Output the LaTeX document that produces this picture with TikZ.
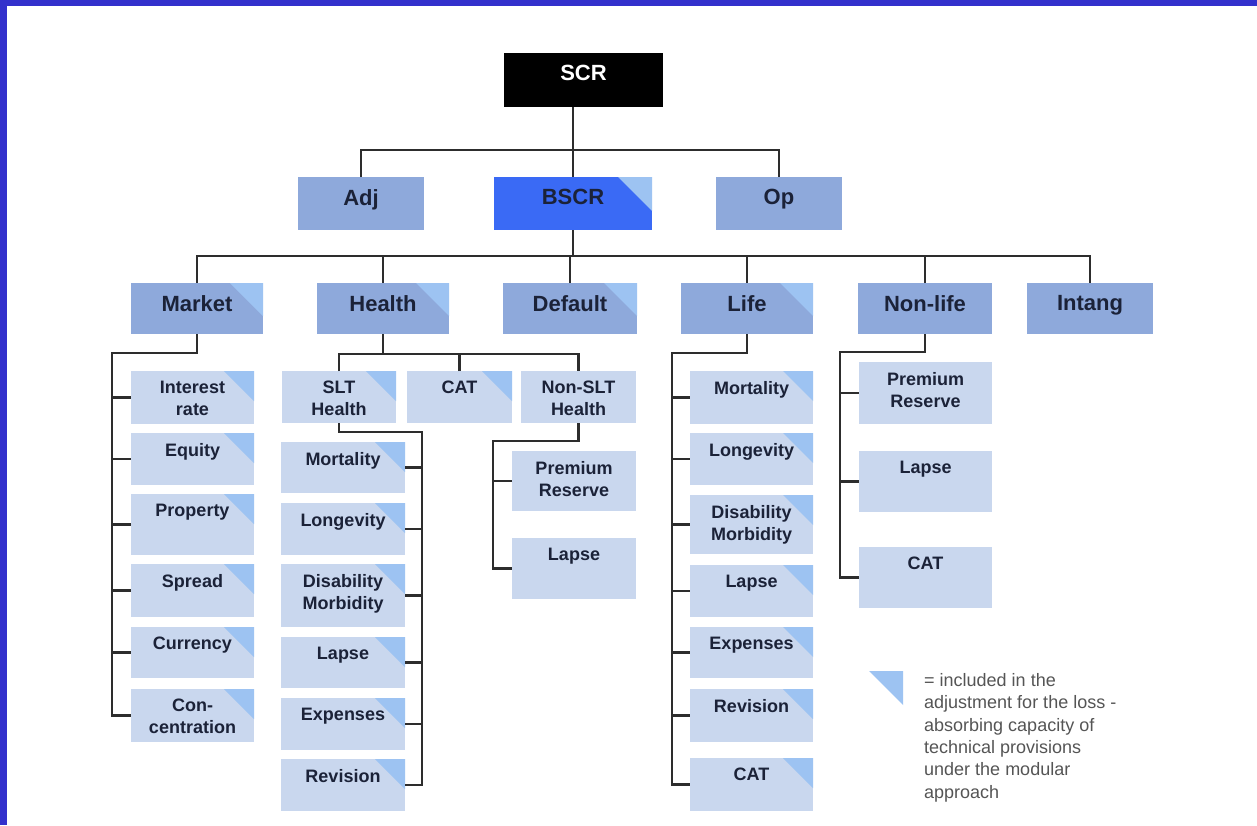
\documentclass[tikz,border=0pt]{standalone}
\usepackage{fontspec}
\setmainfont{Liberation Sans}
\definecolor{framec}{RGB}{51,49,204}
\definecolor{lvA}{RGB}{142,169,219}
\definecolor{lvB}{RGB}{201,215,238}
\definecolor{bscrc}{RGB}{58,106,245}
\definecolor{tric}{RGB}{157,195,242}
\definecolor{txtc}{RGB}{27,34,56}
\definecolor{linec}{RGB}{45,45,45}
\definecolor{legc}{RGB}{85,85,85}
% #1 name, #2 box style, #3 text style, #4 x1, #5 y1, #6 x2, #7 y2, #8 text, #9 triangle size (0 = none)
\newcommand\bx[9]{%
  \node[#2, minimum width={#6-#4}, minimum height={#7-#5}] (#1) at ({(#4+#6)/2},{(#5+#7)/2}) {};
  \ifnum#9>0 \fill[trifill] ([xshift=-#9]#1.north east) -- (#1.north east) -- ([yshift=-#9]#1.north east) -- cycle;\fi
  \node[#3] (#1-t) at (#1.north) {#8};}
\begin{document}
\begin{tikzpicture}[x=1pt,y=-1pt,
  boxbase/.style={inner sep=0pt, outer sep=0pt, rectangle},
  blk/.style={boxbase, fill=black},
  bA/.style={boxbase, fill=lvA},
  bB/.style={boxbase, fill=lvB},
  bS/.style={boxbase, fill=bscrc},
  tA/.style={inner sep=0pt, anchor=north, yshift=-12pt, align=center, text=txtc, font=\bfseries\fontsize{22}{26}\selectfont},
  tW/.style={tA, text=white},
  tB/.style={inner sep=0pt, anchor=north, yshift=-10pt, align=center, text=txtc, font=\bfseries\fontsize{18}{22}\selectfont},
  conn/.style={draw=linec, line width=2.6pt},
  trifill/.style={fill=tric}]
\useasboundingbox (0,0) rectangle (1257,825);
\fill[white] (0,0) rectangle (1257,825);
\fill[framec] (0,0) rectangle (7,825);
\fill[framec] (0,0) rectangle (1257,6);

% level 0 and 1
\bx{scr}{blk}{tW}{504}{53}{663}{107}{SCR}{0}
\bx{adj}{bA}{tA}{298}{177}{424}{230}{Adj}{0}
\bx{bscr}{bS}{tA}{494}{177}{652}{230}{BSCR}{34}
\bx{op}{bA}{tA}{716}{177}{842}{230}{Op}{0}

% level 2
\bx{market}{bA}{tA}{131}{283}{263}{334}{Market}{33}
\bx{health}{bA}{tA}{317}{283}{449}{334}{Health}{33}
\bx{default}{bA}{tA}{503}{283}{637}{334}{Default}{33}
\bx{life}{bA}{tA}{681}{283}{813}{334}{Life}{33}
\bx{nonlife}{bA}{tA}{858}{283}{992}{334}{Non-life}{0}
\bx{intang}{bA}{tA}{1027}{283}{1153}{334}{Intang}{0}

% market children
\bx{mk1}{bB}{tB}{131}{371}{254}{424}{Interest\\rate}{30}
\bx{mk2}{bB}{tB}{131}{433}{254}{485}{Equity}{30}
\bx{mk3}{bB}{tB}{131}{494}{254}{555}{Property}{30}
\bx{mk4}{bB}{tB}{131}{564}{254}{617}{Spread}{30}
\bx{mk5}{bB}{tB}{131}{627}{254}{678}{Currency}{30}
\bx{mk6}{bB}{tB}{131}{689}{254}{742}{Con-\\centration}{30}

% health children
\bx{slt}{bB}{tB}{282}{371}{396}{423}{SLT\\Health}{30}
\bx{hcat}{bB}{tB}{407}{371}{512}{423}{CAT}{30}
\bx{nslt}{bB}{tB}{521}{371}{636}{423}{Non-SLT\\Health}{0}

% SLT children
\bx{sl1}{bB}{tB}{281}{442}{405}{493}{Mortality}{30}
\bx{sl2}{bB}{tB}{281}{503}{405}{555}{Longevity}{30}
\bx{sl3}{bB}{tB}{281}{564}{405}{627}{Disability\\Morbidity}{30}
\bx{sl4}{bB}{tB}{281}{637}{405}{688}{Lapse}{30}
\bx{sl5}{bB}{tB}{281}{698}{405}{750}{Expenses}{30}
\bx{sl6}{bB}{tB}{281}{759}{405}{811}{Revision}{30}

% Non-SLT children
\bx{ns1}{bB}{tB}{512}{451}{636}{511}{Premium\\Reserve}{0}
\bx{ns2}{bB}{tB}{512}{538}{636}{599}{Lapse}{0}

% life children
\bx{lf1}{bB}{tB}{690}{371}{813}{424}{Mortality}{30}
\bx{lf2}{bB}{tB}{690}{433}{813}{485}{Longevity}{30}
\bx{lf3}{bB}{tB}{690}{495}{813}{554}{Disability\\Morbidity}{30}
\bx{lf4}{bB}{tB}{690}{565}{813}{617}{Lapse}{30}
\bx{lf5}{bB}{tB}{690}{627}{813}{678}{Expenses}{30}
\bx{lf6}{bB}{tB}{690}{689}{813}{742}{Revision}{30}
\bx{lf7}{bB}{tB}{690}{758}{813}{811}{CAT}{30}

% non-life children
\bx{nl1}{bB}{tB}{859}{362}{992}{424}{Premium\\Reserve}{0}
\bx{nl2}{bB}{tB}{859}{451}{992}{512}{Lapse}{0}
\bx{nl3}{bB}{tB}{859}{547}{992}{608}{CAT}{0}

% connectors
\coordinate (b1) at (0,150);
\coordinate (b2) at (0,256);
\draw[conn] (scr.south -| bscr.north) -- (bscr.north);
\draw[conn] (adj.north) -- (adj.north |- b1) -- (op.north |- b1) -- (op.north);
\draw[conn] (bscr.south) -- (bscr.south |- b2);
\draw[conn] (market.north) -- (market.north |- b2) -- (intang.north |- b2) -- (intang.north);
\foreach \n in {health,default,life,nonlife} \draw[conn] (\n.north) -- (\n.north |- b2);

\coordinate (mkv) at (112,353);
\draw[conn] (market.south) -- (market.south |- mkv) -- (mkv) -- (mkv |- mk6.west) -- (mk6.west);
\foreach \n in {mk1,mk2,mk3,mk4,mk5} \draw[conn] (mkv |- \n.west) -- (\n.west);

\coordinate (hb) at (0,354);
\draw[conn] (health.south) -- (health.south |- hb);
\draw[conn] (slt.north) -- (slt.north |- hb) -- (nslt.north |- hb) -- (nslt.north);
\draw[conn] (hcat.north) -- (hcat.north |- hb);

\coordinate (slv) at (422,432);
\draw[conn] (slt.south) -- (slt.south |- slv) -- (slv) -- (slv |- sl6.east) -- (sl6.east);
\foreach \n in {sl1,sl2,sl3,sl4,sl5} \draw[conn] (slv |- \n.east) -- (\n.east);

\coordinate (nsv) at (493,441);
\draw[conn] (nslt.south) -- (nslt.south |- nsv) -- (nsv) -- (nsv |- ns2.west) -- (ns2.west);
\draw[conn] (nsv |- ns1.west) -- (ns1.west);

\coordinate (lfv) at (672,353);
\draw[conn] (life.south) -- (life.south |- lfv) -- (lfv) -- (lfv |- lf7.west) -- (lf7.west);
\foreach \n in {lf1,lf2,lf3,lf4,lf5,lf6} \draw[conn] (lfv |- \n.west) -- (\n.west);

\coordinate (nlv) at (840,352);
\draw[conn] (nonlife.south) -- (nonlife.south |- nlv) -- (nlv) -- (nlv |- nl3.west) -- (nl3.west);
\foreach \n in {nl1,nl2} \draw[conn] (nlv |- \n.west) -- (\n.west);

% legend
\fill[trifill] (869,671) -- (903,671) -- (903,705) -- cycle;
\node[anchor=north west, inner sep=0pt, align=left, text=legc, font=\fontsize{18}{22.4}\selectfont] (legend) at (924,673) {= included in the\\adjustment for the loss -\\absorbing capacity of\\technical provisions\\under the modular\\approach};
\end{tikzpicture}
\end{document}
